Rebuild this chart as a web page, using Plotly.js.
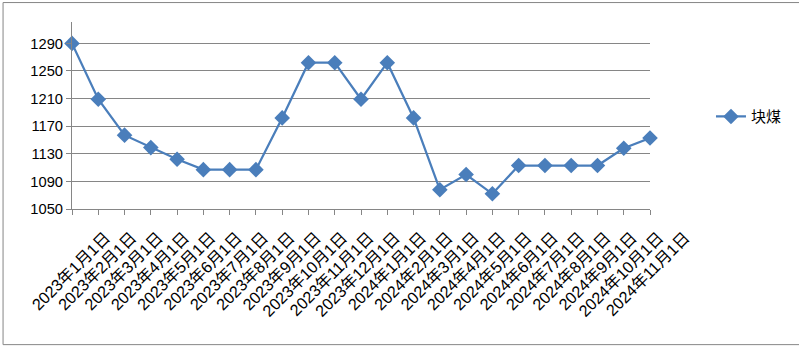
<!DOCTYPE html>
<html>
<head>
<meta charset="utf-8">
<script src="https://cdn.plot.ly/plotly-3.0.1.min.js"></script>
<style>
html,body{margin:0;padding:0;background:#fff;}
#chart{width:799px;height:360px;}
</style>
</head>
<body>
<div id="chart"></div>
<script>
const categories = ["2023年1月1日","2023年2月1日","2023年3月1日","2023年4月1日","2023年5月1日","2023年6月1日","2023年7月1日","2023年8月1日","2023年9月1日","2023年10月1日","2023年11月1日","2023年12月1日","2024年1月1日","2024年2月1日","2024年3月1日","2024年4月1日","2024年5月1日","2024年6月1日","2024年7月1日","2024年8月1日","2024年9月1日","2024年10月1日","2024年11月1日"];
const seriesName = "块煤";
const values = [1290,1209,1157,1139,1122,1107,1107,1107,1182,1262,1262,1209,1262,1182,1078,1100,1072,1113,1113,1113,1113,1138,1153];
const yTicks = [1050,1090,1130,1170,1210,1250,1290];

const idx = categories.map((c,i)=>i);
const lineColor = "#4A7EBB";
const fontFam = "Liberation Sans, Arial, Noto Sans CJK SC, sans-serif";

// pixel geometry
const L = 71.5, R = 685, T = 22, B = 209.5;
const W = R - L, H = B - T;
const px = v => (v - L) / W;
const py = v => (B - v) / H;

const traces = [
  {
    x: idx, y: values, name: seriesName, type: "scatter", mode: "lines+markers",
    line: {color: lineColor, width: 2.25},
    marker: {symbol: "diamond", size: 12, color: lineColor},
    cliponaxis: false,
    xaxis: "x", yaxis: "y"
  },
  {
    x: idx, y: idx.map(()=>0), type: "scatter", mode: "markers", showlegend: false,
    hoverinfo: "skip", marker: {opacity: 0, size: 1},
    xaxis: "x2", yaxis: "y2"
  }
];

const layout = {
  width: 799, height: 360,
  margin: {l: L, r: 799 - R, t: T, b: 360 - B},
  paper_bgcolor: "#fff", plot_bgcolor: "rgba(0,0,0,0)",
  font: {family: fontFam, size: 14.7, color: "#000"},
  showlegend: true,
  legend: {x: px(711), y: py(117), xanchor: "left", yanchor: "middle",
    font: {family: "Noto Sans CJK SC, sans-serif", size: 15, color: "#000"},
    bgcolor: "rgba(0,0,0,0)"},
  xaxis: {
    domain: [0, px(650)], anchor: "y",
    range: [0, categories.length - 1], tickvals: idx, ticktext: categories,
    showticklabels: false, ticks: "outside", ticklen: 5, tickcolor: "#868686", tickwidth: 1,
    showline: true, linecolor: "#868686", linewidth: 1, showgrid: false, zeroline: false,
    fixedrange: true
  },
  xaxis2: {
    domain: [px(105), 1], anchor: "y2",
    range: [0, categories.length - 1], tickvals: idx, ticktext: categories,
    tickangle: -45, ticks: "", showline: false, showgrid: false, zeroline: false,
    ticklabelstandoff: 15,
    tickfont: {family: fontFam, size: 16.2, color: "#000"},
    fixedrange: true
  },
  yaxis: {
    domain: [0, 1], anchor: "x",
    range: [1050, 1321], tickvals: yTicks, ticktext: yTicks.map(String),
    ticks: "outside", ticklen: 5, tickcolor: "#868686",
    showline: true, linecolor: "#868686", linewidth: 1,
    showgrid: true, gridcolor: "#868686", gridwidth: 1, zeroline: false,
    tickfont: {family: fontFam, size: 14.7, color: "#000"},
    fixedrange: true
  },
  yaxis2: {
    domain: [0, 0.01], anchor: "x2", visible: false, range: [0, 1], fixedrange: true
  },
  shapes: [{
    type: "rect", xref: "paper", yref: "paper",
    x0: px(2.5), x1: px(805), y0: py(345.5), y1: py(2.5),
    line: {color: "#868686", width: 1}, fillcolor: "rgba(0,0,0,0)", layer: "below"
  }]
};

Plotly.newPlot("chart", traces, layout, {displayModeBar: false, staticPlot: true});
</script>
</body>
</html>
